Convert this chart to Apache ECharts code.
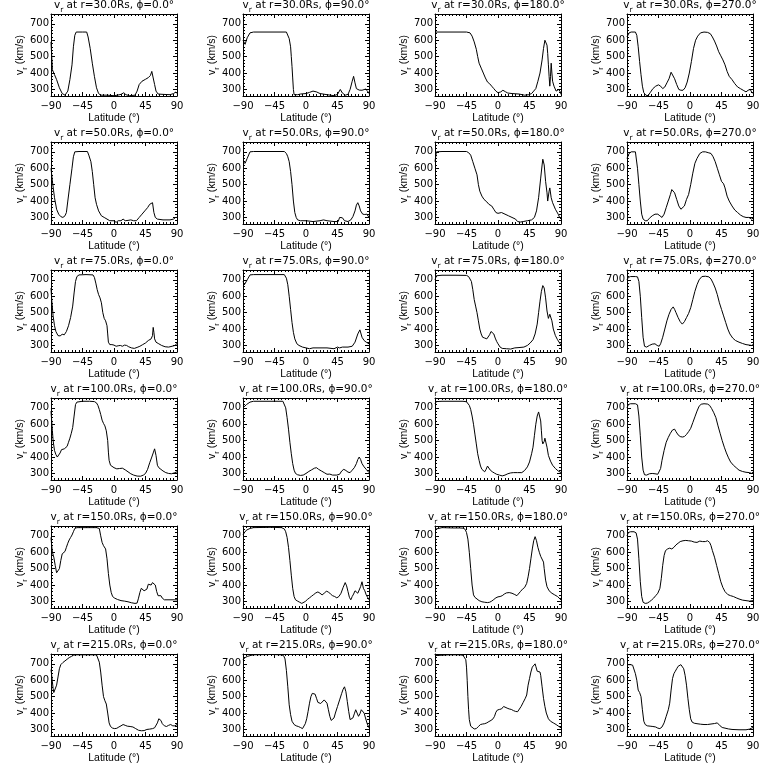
<!DOCTYPE html>
<html><head><meta charset="utf-8">
<script src="https://cdn.jsdelivr.net/npm/echarts@6/dist/echarts.min.js"></script>
<style>html,body{margin:0;padding:0;background:#fff}#c{width:768px;height:768px}</style>
</head><body><div id="c"></div>
<script>
const radii = ['30.0','50.0','75.0','100.0','150.0','215.0'];
const phis = ['0.0','90.0','180.0','270.0'];
const xTicks = [-90,-45,0,45,90];
const yTicks = [300,400,500,600,700];
const yMinor = [280,320,340,360,380,420,440,460,480,520,540,560,580,620,640,660,680,720,740];

// r = 30 Rs
const v30_0 = [[-90,590],[-88,420],[-85,390],[-82,360],[-78,310],[-74,275],[-70,265],[-66,290],[-63,360],[-60,450],[-58,560],[-56,630],[-54,650],[-45,650],[-39,650],[-37,620],[-34,550],[-31,460],[-28,380],[-25,310],[-22,275],[-19,265],[-10,265],[0,262],[5,265],[10,270],[14,280],[17,268],[22,262],[30,265],[33,290],[36,330],[40,350],[45,362],[49,372],[52,385],[54,410],[56,370],[58,330],[60,290],[63,272],[70,270],[80,268],[85,275],[88,283],[90,278]];
const v30_90 = [[-90,600],[-87,575],[-84,615],[-80,645],[-75,650],[-28,650],[-26,640],[-24,610],[-22,560],[-21,500],[-20,440],[-19,370],[-18,300],[-17,268],[-12,268],[-8,272],[0,275],[5,282],[10,290],[15,285],[20,275],[30,268],[40,262],[45,270],[49,300],[52,278],[56,265],[60,270],[63,300],[66,350],[68,380],[70,340],[72,305],[76,296],[80,295],[85,302],[88,290],[90,275]];
const v30_180 = [[-90,650],[-45,650],[-40,645],[-37,625],[-34,590],[-31,545],[-29,500],[-27,460],[-24,430],[-21,400],[-18,370],[-15,345],[-12,335],[-9,320],[-6,305],[-3,290],[0,280],[2,272],[4,285],[7,295],[9,300],[11,285],[14,278],[20,275],[30,272],[38,265],[44,268],[48,275],[51,290],[54,305],[57,350],[60,400],[63,480],[65,550],[67,600],[68,605],[70,570],[71,520],[72,450],[73,380],[74,320],[75,380],[76,460],[77,400],[78,350],[80,320],[83,290],[85,285],[87,300],[89,285],[90,270]];
const v30_270 = [[-90,620],[-87,645],[-84,650],[-78,650],[-76,630],[-74,560],[-72,470],[-70,390],[-68,320],[-66,280],[-63,265],[-60,262],[-57,280],[-53,305],[-49,320],[-45,328],[-42,320],[-39,305],[-36,315],[-33,340],[-30,365],[-27,405],[-25,395],[-22,365],[-19,330],[-16,300],[-13,295],[-10,295],[-7,310],[-4,345],[-1,400],[2,470],[5,550],[8,600],[11,625],[15,645],[20,650],[25,648],[29,640],[32,620],[35,595],[38,565],[41,530],[44,505],[47,480],[50,450],[53,410],[56,380],[60,360],[64,335],[68,315],[72,305],[76,295],[80,285],[83,295],[86,300],[88,285],[90,275]];
// r = 50 Rs
const v50_0 = [[-90,600],[-88,520],[-85,420],[-82,350],[-79,320],[-76,305],[-73,300],[-70,310],[-68,330],[-66,400],[-63,500],[-60,600],[-58,670],[-56,700],[-50,702],[-38,702],[-36,680],[-33,640],[-31,580],[-29,500],[-27,420],[-25,380],[-22,340],[-18,310],[-14,300],[-10,290],[-6,280],[0,280],[3,270],[6,280],[10,280],[13,290],[16,280],[20,282],[24,285],[28,280],[32,280],[36,300],[40,320],[44,340],[48,360],[51,380],[53,370],[55,390],[57,330],[59,300],[62,290],[70,285],[80,285],[85,290],[88,300],[90,300]];
const v50_90 = [[-90,640],[-87,630],[-84,660],[-80,700],[-75,702],[-31,702],[-28,690],[-26,670],[-24,640],[-22,580],[-20,500],[-18,400],[-16,330],[-14,300],[-12,285],[-8,280],[0,280],[10,275],[20,280],[25,285],[30,280],[40,275],[46,275],[48,300],[50,310],[52,298],[55,280],[60,275],[64,285],[67,305],[70,340],[72,375],[74,390],[76,370],[78,340],[81,320],[84,318],[87,320],[90,300]];
const v50_180 = [[-90,640],[-88,700],[-80,702],[-45,702],[-42,695],[-39,680],[-36,640],[-33,600],[-30,560],[-28,500],[-26,460],[-23,430],[-20,410],[-16,395],[-13,380],[-11,390],[-9,370],[-6,350],[-3,330],[0,325],[2,320],[5,330],[10,320],[15,310],[20,300],[25,290],[28,275],[32,272],[36,275],[42,280],[48,285],[52,300],[55,340],[58,420],[61,540],[63,620],[64,655],[66,620],[68,520],[70,450],[71,400],[73,460],[74,480],[76,420],[78,390],[82,350],[86,320],[88,300],[90,290]];
const v50_270 = [[-90,660],[-87,690],[-84,700],[-78,700],[-76,695],[-75,600],[-73,500],[-71,400],[-69,320],[-67,290],[-64,280],[-61,280],[-58,295],[-54,310],[-50,320],[-46,320],[-43,310],[-40,300],[-37,320],[-34,360],[-31,400],[-28,440],[-26,470],[-24,480],[-22,450],[-19,410],[-16,370],[-13,350],[-11,345],[-8,370],[-5,410],[-2,440],[1,500],[4,570],[7,630],[10,660],[14,690],[18,700],[22,700],[26,695],[30,690],[33,670],[36,640],[39,600],[42,560],[45,520],[48,505],[50,480],[53,430],[56,400],[60,370],[64,345],[68,330],[72,315],[76,305],[80,300],[84,300],[88,290],[90,295]];
// r = 75 Rs
const v75_0 = [[-90,650],[-89,580],[-87,480],[-85,420],[-83,385],[-80,360],[-77,358],[-74,368],[-71,365],[-68,385],[-65,420],[-62,470],[-59,540],[-57,620],[-55,690],[-53,720],[-50,730],[-40,732],[-30,730],[-28,715],[-26,680],[-24,640],[-22,610],[-20,590],[-18,560],[-16,500],[-14,465],[-12,450],[-10,420],[-9,370],[-8,320],[-6,305],[-3,305],[0,302],[3,295],[6,298],[9,300],[12,295],[15,302],[18,300],[21,292],[25,285],[29,282],[33,288],[37,295],[41,305],[45,315],[49,330],[53,340],[55,360],[56,410],[57,380],[58,340],[60,320],[64,310],[68,300],[73,292],[78,290],[83,295],[87,300],[90,312]];
const v75_90 = [[-90,690],[-88,670],[-84,700],[-80,730],[-75,732],[-31,732],[-28,710],[-26,670],[-24,600],[-22,520],[-20,440],[-18,380],[-16,340],[-13,310],[-10,300],[-5,290],[0,285],[5,280],[10,285],[20,285],[30,285],[40,280],[45,290],[48,285],[52,290],[60,290],[66,295],[70,320],[74,370],[77,395],[80,350],[83,330],[86,320],[90,310]];
const v75_180 = [[-90,700],[-88,725],[-80,728],[-60,728],[-45,727],[-42,720],[-40,710],[-38,690],[-36,640],[-34,580],[-32,540],[-30,500],[-28,450],[-26,400],[-24,370],[-22,350],[-19,345],[-16,340],[-14,350],[-12,365],[-10,385],[-8,395],[-6,370],[-4,345],[-2,325],[0,310],[3,290],[6,282],[12,280],[18,278],[24,285],[30,287],[37,290],[42,300],[46,315],[50,335],[53,370],[56,430],[58,500],[60,570],[62,630],[64,665],[65,675],[66,650],[68,590],[70,510],[72,465],[74,490],[75,500],[77,450],[79,400],[82,360],[85,335],[88,315],[90,300]];
const v75_270 = [[-90,700],[-88,715],[-85,720],[-78,720],[-75,718],[-73,690],[-71,600],[-69,470],[-67,350],[-65,295],[-62,290],[-58,300],[-54,308],[-50,310],[-47,300],[-44,295],[-42,310],[-39,350],[-36,400],[-33,450],[-30,490],[-27,520],[-24,535],[-22,520],[-20,500],[-17,470],[-14,445],[-11,430],[-8,445],[-5,470],[-2,495],[1,530],[4,580],[7,630],[10,670],[13,700],[17,720],[22,722],[27,718],[30,705],[33,680],[36,650],[39,610],[42,560],[45,520],[48,480],[51,440],[54,400],[57,370],[61,345],[65,330],[70,320],[75,312],[80,305],[85,302],[88,300],[90,305]];
// r = 100 Rs
const v100_0 = [[-90,680],[-89,620],[-88,560],[-87,500],[-85,440],[-83,415],[-81,400],[-79,408],[-77,425],[-75,445],[-73,455],[-71,450],[-69,445],[-67,465],[-65,490],[-63,515],[-61,545],[-59,580],[-57,650],[-55,720],[-53,735],[-45,740],[-35,740],[-28,738],[-25,730],[-23,715],[-21,690],[-19,660],[-17,625],[-15,605],[-13,590],[-11,560],[-9,500],[-8,430],[-7,380],[-5,350],[-3,340],[0,335],[4,328],[8,330],[12,332],[16,322],[20,310],[24,298],[28,290],[33,284],[38,283],[42,290],[45,300],[48,325],[51,365],[54,400],[56,425],[58,450],[59,440],[60,410],[62,350],[64,335],[67,325],[70,315],[74,305],[78,300],[82,298],[86,303],[90,310]];
const v100_90 = [[-90,700],[-88,690],[-85,720],[-80,735],[-75,740],[-33,740],[-31,730],[-29,700],[-27,640],[-25,570],[-23,490],[-21,420],[-19,360],[-17,320],[-15,300],[-12,292],[-8,288],[-4,290],[0,300],[4,312],[8,322],[12,332],[15,335],[18,325],[22,315],[26,305],[30,295],[34,296],[38,290],[44,290],[48,295],[51,315],[54,325],[57,318],[60,308],[63,305],[66,320],[69,335],[72,360],[74,385],[76,400],[78,385],[80,360],[83,340],[86,325],[88,315],[90,305]];
const v100_180 = [[-90,725],[-88,738],[-80,740],[-50,740],[-45,737],[-43,730],[-41,715],[-39,690],[-37,650],[-35,600],[-33,540],[-31,480],[-29,420],[-27,380],[-25,345],[-23,325],[-21,315],[-19,310],[-17,325],[-15,345],[-13,335],[-11,320],[-8,310],[-5,302],[-2,295],[2,290],[6,285],[10,290],[14,298],[18,303],[22,305],[28,305],[34,305],[38,318],[42,340],[45,370],[48,420],[50,460],[52,530],[54,600],[56,650],[58,675],[59,680],[60,665],[61,620],[62,560],[63,500],[64,480],[66,495],[67,515],[68,520],[70,460],[72,410],[75,375],[78,350],[82,330],[86,315],[90,305]];
const v100_270 = [[-90,700],[-88,720],[-85,725],[-78,725],[-75,718],[-73,650],[-71,530],[-69,400],[-67,320],[-65,292],[-62,290],[-58,298],[-54,300],[-50,298],[-46,295],[-44,300],[-42,330],[-40,380],[-37,440],[-34,490],[-31,520],[-28,545],[-25,565],[-22,570],[-20,555],[-17,535],[-14,525],[-11,522],[-8,525],[-5,538],[-2,555],[1,575],[4,610],[7,645],[10,680],[13,710],[16,722],[20,725],[25,723],[28,715],[31,695],[34,670],[37,640],[40,590],[43,545],[46,500],[49,460],[52,425],[55,395],[58,370],[62,350],[66,335],[70,320],[75,312],[80,307],[85,305],[88,300],[90,310]];
// r = 150 Rs
const v150_0 = [[-90,690],[-89,640],[-88,600],[-86,570],[-84,520],[-82,475],[-80,470],[-78,500],[-76,550],[-74,590],[-72,598],[-70,605],[-68,630],[-66,655],[-64,675],[-62,690],[-60,705],[-58,725],[-56,745],[-53,750],[-45,750],[-35,750],[-25,750],[-21,745],[-19,700],[-17,660],[-15,640],[-13,645],[-12,620],[-10,560],[-8,470],[-6,400],[-4,355],[-2,330],[1,320],[5,312],[10,305],[15,302],[20,298],[25,292],[30,288],[33,290],[35,320],[37,355],[39,380],[41,390],[43,365],[45,355],[47,375],[49,405],[51,410],[53,400],[55,415],[57,425],[59,400],[61,360],[63,335],[65,345],[67,335],[69,320],[72,310],[80,310],[86,310],[90,310]];
const v150_90 = [[-90,705],[-88,720],[-85,735],[-80,745],[-75,750],[-50,752],[-35,750],[-31,742],[-29,725],[-27,690],[-25,630],[-23,550],[-21,460],[-19,380],[-17,330],[-15,310],[-12,302],[-9,295],[-6,288],[-4,290],[-1,300],[2,312],[5,322],[8,332],[11,342],[14,352],[17,358],[20,350],[23,340],[26,350],[29,362],[32,358],[35,345],[38,335],[41,330],[44,322],[47,330],[50,350],[53,385],[56,415],[58,395],[60,360],[62,325],[64,310],[66,330],[68,345],[70,365],[72,370],[74,350],[76,360],[78,390],[80,420],[82,380],[84,365],[86,340],[88,325],[90,310]];
const v150_180 = [[-90,740],[-88,750],[-80,750],[-65,748],[-55,748],[-50,747],[-47,740],[-45,720],[-43,680],[-41,600],[-39,500],[-37,400],[-35,340],[-33,325],[-30,315],[-27,305],[-23,298],[-19,295],[-15,293],[-12,295],[-9,302],[-6,312],[-3,322],[0,328],[3,330],[6,335],[9,345],[12,352],[16,354],[20,350],[24,342],[27,335],[29,340],[32,360],[35,375],[38,385],[41,410],[43,450],[45,500],[47,560],[49,620],[51,670],[53,695],[55,670],[57,630],[59,600],[61,575],[63,570],[65,540],[66,500],[68,430],[70,390],[73,365],[77,350],[81,340],[85,330],[88,318],[90,308]];
const v150_270 = [[-90,700],[-88,720],[-85,725],[-80,725],[-77,718],[-75,680],[-73,560],[-71,420],[-69,330],[-67,295],[-64,288],[-61,290],[-58,298],[-55,308],[-52,320],[-49,335],[-46,350],[-43,380],[-41,440],[-39,520],[-37,580],[-35,610],[-32,620],[-29,625],[-26,620],[-23,630],[-20,645],[-17,655],[-14,665],[-10,670],[-6,672],[-2,670],[2,668],[6,662],[10,660],[14,668],[18,665],[22,665],[25,670],[28,660],[30,640],[32,610],[35,570],[38,520],[41,470],[44,420],[47,385],[50,360],[54,342],[58,335],[62,330],[66,322],[70,315],[75,308],[80,305],[85,302],[90,305]];
// r = 215 Rs
const v215_0 = [[-90,665],[-89,630],[-88,590],[-87,550],[-86,525],[-85,520],[-84,535],[-82,570],[-80,620],[-78,670],[-76,695],[-73,708],[-70,718],[-67,728],[-64,738],[-61,745],[-58,752],[-55,755],[-40,755],[-25,755],[-23,745],[-21,710],[-19,650],[-17,570],[-15,500],[-13,475],[-11,455],[-9,400],[-7,340],[-5,318],[-2,308],[1,305],[4,307],[7,315],[10,322],[13,330],[16,325],[19,320],[23,318],[27,315],[31,305],[35,295],[39,292],[43,293],[47,300],[51,302],[55,305],[58,310],[60,320],[62,340],[64,365],[65,372],[67,355],[69,335],[72,322],[75,318],[78,325],[81,330],[84,322],[87,322],[90,330]];
const v215_90 = [[-90,725],[-87,738],[-84,745],[-80,750],[-75,755],[-50,757],[-35,755],[-32,750],[-30,730],[-28,660],[-26,560],[-24,450],[-22,390],[-20,350],[-17,330],[-14,322],[-11,318],[-8,312],[-5,305],[-3,315],[-1,335],[1,365],[3,410],[5,460],[7,500],[9,520],[11,525],[13,515],[15,490],[17,465],[19,455],[21,458],[23,470],[26,480],[28,478],[30,460],[32,420],[34,380],[36,355],[38,352],[40,370],[42,400],[45,440],[48,480],[51,520],[53,545],[55,560],[57,530],[59,470],[61,410],[63,360],[65,348],[67,370],[69,395],[71,420],[73,400],[75,380],[77,395],[79,420],[81,430],[83,400],[85,370],[87,340],[89,320],[90,310]];
const v215_180 = [[-90,750],[-88,755],[-70,755],[-55,755],[-50,752],[-48,745],[-46,725],[-45,680],[-44,600],[-43,500],[-42,420],[-41,360],[-39,320],[-37,308],[-34,303],[-31,305],[-28,318],[-25,330],[-22,333],[-19,335],[-16,340],[-13,348],[-10,355],[-7,365],[-5,380],[-3,405],[-1,418],[2,422],[5,425],[8,440],[10,438],[13,430],[16,425],[19,422],[22,415],[25,410],[28,408],[30,415],[33,440],[36,465],[39,490],[41,510],[43,570],[45,610],[47,650],[49,680],[51,690],[53,700],[54,685],[56,655],[58,645],[60,650],[61,630],[63,560],[65,490],[67,440],[69,400],[72,365],[75,350],[79,340],[83,330],[87,318],[90,310]];
const v215_270 = [[-90,695],[-85,695],[-82,692],[-80,680],[-78,640],[-76,600],[-74,540],[-72,525],[-70,500],[-68,420],[-66,350],[-64,330],[-61,322],[-57,320],[-53,318],[-49,315],[-46,308],[-43,305],[-40,315],[-37,340],[-34,380],[-31,420],[-29,460],[-27,540],[-25,610],[-23,640],[-21,655],[-19,670],[-17,685],[-15,692],[-13,695],[-11,690],[-9,670],[-7,630],[-5,570],[-3,490],[-1,420],[1,365],[3,345],[6,338],[10,335],[15,332],[20,330],[25,330],[30,333],[35,336],[39,340],[41,335],[43,322],[46,312],[50,308],[55,303],[60,300],[70,298],[80,298],[85,302],[88,308],[90,312]];

const panels = [
  [v30_0, v30_90, v30_180, v30_270],
  [v50_0, v50_90, v50_180, v50_270],
  [v75_0, v75_90, v75_180, v75_270],
  [v100_0, v100_90, v100_180, v100_270],
  [v150_0, v150_90, v150_180, v150_270],
  [v215_0, v215_90, v215_180, v215_270]
];

const chart = echarts.init(document.getElementById('c'), null, {renderer: 'canvas'});
const F = 'DejaVu Sans', F2 = 'Liberation Sans';
const black = '#000';
const grids = [], xAxes = [], yAxes = [], series = [], titles = [];
const subRich = {
  v: {fontSize: 10.5, fontFamily: F, color: black},
  s: {fontSize: 7.5, fontFamily: F, color: black, verticalAlign: 'bottom', padding: [0, 0, -3, 0]}
};
radii.forEach((r, ri) => phis.forEach((p, ci) => {
  const i = ri * 4 + ci;
  const left = 51 + 192 * ci, top = 14 + 128 * ri;
  grids.push({left: left, top: top, width: 126, height: 82, outerBoundsMode: 'none'});
  titles.push({
    text: '{v|v}{s|r}{v| at r=' + r + 'Rs, \u03d5=' + p + '\u00b0}',
    left: left + 63, top: top - 14, textAlign: 'center', padding: 0,
    textStyle: {fontSize: 10.5, fontWeight: 'normal', color: black, fontFamily: F, rich: subRich}
  });
  const line = {show: true, onZero: false, lineStyle: {color: black, width: 1}};
  const noLine = {show: false, onZero: false};
  const baseX = {gridIndex: i, type: 'value', min: -90, max: 90, interval: 45,
    splitLine: {show: false}, axisLine: line,
    axisTick: {show: true, inside: true, length: 4, lineStyle: {color: black, width: 1}},
    minorTick: {show: true, splitNumber: 9, length: 2, lineStyle: {color: black, width: 1}}};
  xAxes.push(Object.assign({}, baseX, {position: 'bottom',
    axisLabel: {show: true, margin: 5, fontSize: 10, fontFamily: F, color: black,
      formatter: v => (v < 0 ? '\u2212' + (-v) : String(v))},
    name: 'Latitude (\u00b0)', nameLocation: 'middle', nameGap: 17, nameMoveOverlap: false,
    nameTextStyle: {fontSize: 10.5, fontFamily: F2, color: black}}));
  xAxes.push(Object.assign({}, baseX, {position: 'top', axisLabel: {show: false}}));
  const baseY = {gridIndex: i, type: 'value', min: 260, max: 760, splitLine: {show: false}};
  yAxes.push(Object.assign({}, baseY, {position: 'left', axisLine: line,
    axisTick: {show: true, inside: true, length: 4, customValues: yTicks, lineStyle: {color: black, width: 1}},
    axisLabel: {show: true, customValues: yTicks, margin: 2, fontSize: 10, fontFamily: F, color: black},
    name: '{v|v}{s|r}{v| (km/s)}', nameLocation: 'middle', nameGap: 25, nameMoveOverlap: false,
    nameTextStyle: {fontSize: 10.5, fontFamily: F2, color: black, rich: {
      v: {fontSize: 10.5, fontFamily: F2, color: black},
      s: {fontSize: 7.5, fontFamily: F2, color: black, verticalAlign: 'bottom', padding: [0, 0, -3, 0]}}}}));
  yAxes.push(Object.assign({}, baseY, {position: 'left', axisLine: noLine,
    axisTick: {show: true, inside: true, length: 2, customValues: yMinor, lineStyle: {color: black, width: 1}},
    axisLabel: {show: false}}));
  yAxes.push(Object.assign({}, baseY, {position: 'right', axisLine: line,
    axisTick: {show: true, inside: true, length: 4, customValues: yTicks, lineStyle: {color: black, width: 1}},
    axisLabel: {show: false}}));
  yAxes.push(Object.assign({}, baseY, {position: 'right', axisLine: noLine,
    axisTick: {show: true, inside: true, length: 2, customValues: yMinor, lineStyle: {color: black, width: 1}},
    axisLabel: {show: false}}));
  series.push({type: 'line', xAxisIndex: 2 * i, yAxisIndex: 4 * i, data: panels[ri][ci],
    showSymbol: false, symbol: 'none', smooth: false,
    lineStyle: {color: black, width: 1}, silent: true, animation: false});
}));

chart.setOption({
  backgroundColor: '#fff', animation: false,
  title: titles, grid: grids, xAxis: xAxes, yAxis: yAxes, series: series
});
</script></body></html>
